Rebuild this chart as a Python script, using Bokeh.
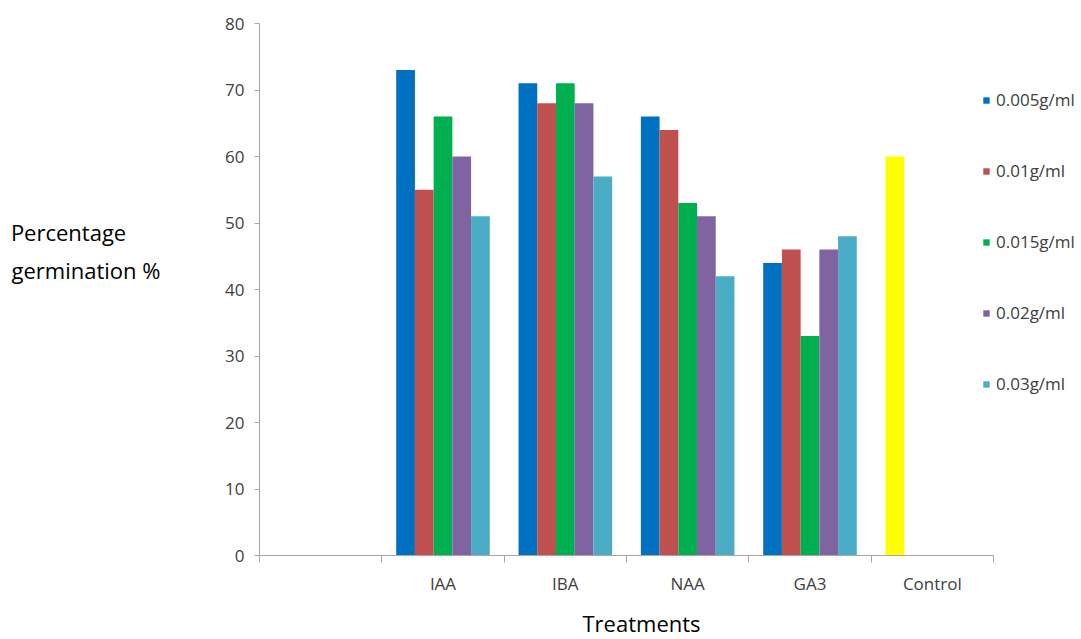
from bokeh.plotting import figure
from bokeh.models import FixedTicker, Legend, LegendItem, LinearAxis, ColumnDataSource, Title
from bokeh.embed import file_html
from bokeh.resources import INLINE

categories = ["", "IAA", "IBA", "NAA", "GA3", "Control"]
series_names = ["0.005g/ml", "0.01g/ml", "0.015g/ml", "0.02g/ml", "0.03g/ml"]
treated = ["IAA", "IBA", "NAA", "GA3"]
v_0005 = [73, 71, 66, 44]
v_001 = [55, 68, 64, 46]
v_0015 = [66, 71, 53, 33]
v_002 = [60, 68, 51, 46]
v_003 = [51, 57, 42, 48]
control = [60]
y_ticks = [0, 10, 20, 30, 40, 50, 60, 70, 80]
x_title = "Treatments"
y_title_lines = ["Percentage", "germination %"]

colors = ["#0070C0", "#C0504D", "#00B050", "#8064A2", "#4BACC6"]
control_color = "#FFFF00"
FONT = "Open Sans"
TXT = "#404040"
AX = "#A6A6A6"

ncat = len(categories)
x_end = ncat * (1081 - 259) / (993 - 259)

p = figure(width=1081, height=651, output_backend="svg", toolbar_location=None,
           x_range=(0, x_end), y_range=(0, 80),
           min_border_left=259, min_border_right=0, min_border_top=23, min_border_bottom=96)
p.outline_line_color = None
p.xgrid.visible = False
p.ygrid.visible = False

bar_w = 0.153
offsets = [-2 * bar_w, -bar_w, 0, bar_w, 2 * bar_w]
all_series = [v_0005, v_001, v_0015, v_002, v_003]
renderers = []
for vals, off, col in zip(all_series, offsets, colors):
    xs = [categories.index(c) + 0.5 + off for c in treated]
    src = ColumnDataSource(dict(x=xs, top=vals))
    r = p.vbar(x="x", top="top", width=bar_w, bottom=0, source=src, fill_color=col, line_color=None)
    renderers.append(r)
csrc = ColumnDataSource(dict(x=[categories.index("Control") + 0.5 + offsets[0]], top=control))
p.vbar(x="x", top="top", width=bar_w, bottom=0, source=csrc, fill_color=control_color, line_color=None)

# x axis
centers = [i + 0.5 for i in range(ncat)]
xa = p.xaxis[0]
xa.bounds = (0, ncat)
xa.ticker = FixedTicker(ticks=centers, minor_ticks=list(range(ncat + 1)))
xa.major_label_overrides = {c: lab for c, lab in zip(centers, categories)}
xa.major_tick_out = 0
xa.major_tick_in = 0
xa.minor_tick_out = 7
xa.minor_tick_in = 0
xa.minor_tick_line_color = AX
xa.axis_line_color = AX
xa.major_label_standoff = 9
xa.major_label_text_font = FONT
xa.major_label_text_font_size = "17px"
xa.major_label_text_color = TXT

# x title
p.add_layout(Title(text=x_title, align="left", offset=323, standoff=17,
                   text_font=FONT, text_font_size="22px", text_font_style="normal",
                   text_color="#000000"), "below")

# y axis
ya = p.yaxis[0]
ya.ticker = FixedTicker(ticks=y_ticks)
ya.major_tick_out = 5
ya.major_tick_in = 0
ya.minor_tick_out = 0
ya.minor_tick_in = 0
ya.major_tick_line_color = AX
ya.axis_line_color = AX
ya.major_label_standoff = 10
ya.major_label_text_font = FONT
ya.major_label_text_font_size = "17px"
ya.major_label_text_color = TXT

nb = "\u00a0"
y_label = "\n".join([y_title_lines[0] + nb * 6, y_title_lines[1], nb, nb])
yt = LinearAxis(ticker=FixedTicker(ticks=[]), axis_line_color=None,
                major_tick_line_color=None, minor_tick_line_color=None,
                major_label_text_font_size="0px", axis_label=y_label,
                axis_label_orientation="horizontal",
                axis_label_text_font=FONT, axis_label_text_font_size="22px",
                axis_label_text_font_style="normal", axis_label_text_color="#000000",
                axis_label_text_line_height=1.27,
                axis_label_standoff=62)
p.add_layout(yt, "left")

legend = Legend(items=[LegendItem(label=n, renderers=[r]) for n, r in zip(series_names, renderers)],
                location=(723, 160), orientation="vertical",
                glyph_width=8, glyph_height=8, label_height=22, spacing=48,
                label_standoff=6, padding=0, margin=0,
                border_line_color=None, background_fill_alpha=0,
                label_text_font=FONT, label_text_font_size="17px", label_text_color=TXT)
p.add_layout(legend)

open("out.html", "w").write(file_html(p, INLINE))
